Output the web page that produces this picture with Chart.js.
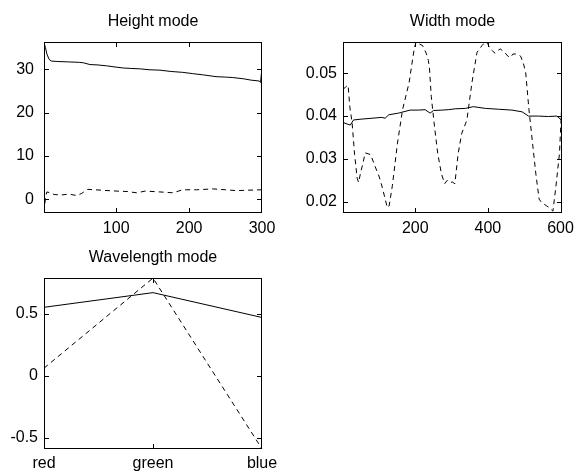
<!DOCTYPE html>
<html>
<head>
<meta charset="utf-8">
<script src="https://cdn.jsdelivr.net/npm/chart.js@4/dist/chart.umd.min.js"></script>
<style>
  html, body { margin: 0; padding: 0; background: #fff; }
  body { width: 575px; height: 471px; position: relative; overflow: hidden; }
  .panel { position: absolute; }
</style>
</head>
<body>
<div class="panel" style="left:0;top:0"><canvas id="height-chart" width="285" height="240"></canvas></div>
<div class="panel" style="left:290px;top:0"><canvas id="width-chart" width="285" height="240"></canvas></div>
<div class="panel" style="left:0;top:235px"><canvas id="wave-chart" width="290" height="236"></canvas></div>
<script>
/* ─── Data ───────────────────────────────────────────────────────────────── */
const heightSolidX  = [1, 3, 5, 8, 11, 20, 35, 50, 55, 64, 75, 87, 100, 110, 120, 133, 145, 160, 175, 191, 205, 220, 237, 250, 260, 275, 285, 296, 298, 300];
const heightSolidY  = [36.2, 35, 33.5, 32.3, 31.9, 31.8, 31.7, 31.6, 31.5, 31.1, 31.0, 30.8, 30.5, 30.3, 30.2, 30.1, 29.9, 29.8, 29.5, 29.3, 29.0, 28.7, 28.3, 28.2, 28.1, 27.8, 27.5, 27.3, 27.0, 30.3];
const heightDashX   = [1, 2, 3, 5, 10, 15, 25, 35, 45, 52, 61, 80, 100, 115, 128, 140, 160, 178, 191, 210, 233, 250, 265, 280, 300];
const heightDashY   = [-3, -1.5, 0.5, 1.7, 1.5, 1.1, 1.0, 1.2, 0.9, 1.3, 2.3, 2.1, 1.9, 1.8, 1.5, 1.9, 1.7, 1.5, 2.2, 2.2, 2.4, 2.2, 2.0, 2.1, 2.2];
const heightXTicks  = [100, 200, 300];
const heightYTicks  = [0, 10, 20, 30];

const widthSolidX   = [1, 21, 30, 53, 81, 108, 117, 127, 154, 163, 186, 209, 227, 241, 250, 273, 291, 310, 338, 360, 393, 429, 466, 494, 512, 539, 567, 590, 602, 604];
const widthSolidY   = [0.0385, 0.0379, 0.0391, 0.0393, 0.0395, 0.0397, 0.0395, 0.0403, 0.0407, 0.0409, 0.0414, 0.0414, 0.0415, 0.0407, 0.0413, 0.0414, 0.0415, 0.0417, 0.0418, 0.0422, 0.0418, 0.0416, 0.0414, 0.041, 0.040, 0.040, 0.0399, 0.040, 0.0391, 0.0454];
const widthDashX    = [1, 8, 15, 20, 26, 33, 40, 44, 50, 56, 62, 70, 77, 90, 100, 109, 116, 123, 128, 137, 151, 165, 183, 197, 202, 212, 220, 230, 236, 239, 244, 253, 262, 272, 281, 288, 295, 302, 309, 318, 328, 342, 356, 370, 384, 392, 399, 406, 413, 420, 427, 434, 441, 448, 455, 462, 469, 476, 483, 490, 497, 504, 513, 522, 532, 541, 548, 555, 562, 569, 574, 579, 587, 597, 603];
const widthDashY    = [0.0462, 0.0468, 0.0472, 0.042, 0.0385, 0.031, 0.0255, 0.0245, 0.027, 0.029, 0.0314, 0.0312, 0.031, 0.0281, 0.026, 0.0234, 0.021, 0.0186, 0.019, 0.0238, 0.0337, 0.0415, 0.0478, 0.0557, 0.0573, 0.0568, 0.0565, 0.0547, 0.053, 0.0513, 0.0446, 0.0375, 0.0312, 0.0265, 0.0242, 0.025, 0.0245, 0.0246, 0.0242, 0.0312, 0.036, 0.039, 0.0478, 0.0549, 0.0565, 0.0573, 0.057, 0.0557, 0.0552, 0.0547, 0.0553, 0.0557, 0.0552, 0.0547, 0.054, 0.0537, 0.0545, 0.0545, 0.0543, 0.054, 0.0525, 0.0502, 0.0415, 0.0344, 0.0265, 0.0206, 0.0198, 0.0194, 0.019, 0.0186, 0.0182, 0.0178, 0.0234, 0.0312, 0.042];
const widthXTicks   = [200, 400, 600];
const widthYTicks   = [0.02, 0.03, 0.04, 0.05];

const waveLabels    = ['red', 'green', 'blue'];
const waveSolid     = [0.55, 0.668, 0.468];
const waveDash      = [0.06, 0.785, -0.59];
const waveYTicks    = [-0.5, 0, 0.5];

/* ─── Helpers ────────────────────────────────────────────────────────────── */
const FONT = { family: '"Liberation Sans", Arial, Helvetica, sans-serif', size: 16, weight: 'normal' };
Chart.defaults.color = '#000';
Chart.defaults.font = FONT;

function toPoints(xs, ys) {
  return xs.map((x, i) => ({ x, y: ys[i] }));
}

function fixSize(size, horizontal) {
  return scale => {
    if (horizontal) scale.height = size; else scale.width = size;
    scale.paddingLeft = scale.paddingRight = scale.paddingTop = scale.paddingBottom = 0;
  };
}

function setTicks(values) {
  return scale => { scale.ticks = values.map(v => ({ value: v })); };
}

// matlab style box with inward ticks on all four sides, drawn as 1px fills
const boxPlugin = {
  id: 'matlabBox',
  afterDraw(chart) {
    const { ctx, chartArea: a, scales } = chart;
    const L = 4;
    const l = Math.round(a.left), r = Math.round(a.right) - 1;
    const t = Math.round(a.top),  b = Math.round(a.bottom) - 1;
    ctx.save();
    ctx.fillStyle = '#000';
    ctx.fillRect(l, t, r - l + 1, 1);
    ctx.fillRect(l, b, r - l + 1, 1);
    ctx.fillRect(l, t, 1, b - t + 1);
    ctx.fillRect(r, t, 1, b - t + 1);
    scales.x.ticks.forEach((_, i) => {
      const px = Math.min(r, Math.round(scales.x.getPixelForTick(i)));
      ctx.fillRect(px, b - L, 1, L);
      ctx.fillRect(px, t + 1, 1, L);
    });
    scales.y.ticks.forEach((_, i) => {
      const py = Math.round(scales.y.getPixelForTick(i));
      ctx.fillRect(l + 1, py, L, 1);
      ctx.fillRect(r - L, py, L, 1);
    });
    ctx.restore();
  }
};

function line(data, dashed) {
  return {
    data,
    borderColor: '#000',
    borderWidth: 1,
    borderDash: dashed ? [5, 4] : [],
    pointRadius: 0,
    tension: 0,
    fill: false
  };
}

function makeChart(id, o) {
  const xScale = o.category
    ? { type: 'category', offset: false }
    : { type: 'linear', min: o.xMin, max: o.xMax, afterBuildTicks: setTicks(o.xTicks) };
  Object.assign(xScale, {
    grid: { display: false, drawTicks: false },
    border: { display: false },
    ticks: { padding: o.xPad, maxRotation: 0, autoSkip: false, callback: v => String(v) },
    afterFit: fixSize(o.xHeight, true)
  });
  if (o.category) {
    xScale.ticks.callback = function (v) { return this.getLabelForValue(v); };
  }

  new Chart(document.getElementById(id), {
    type: 'line',
    data: { labels: o.labels, datasets: o.datasets },
    options: {
      responsive: false,
      animation: false,
      layout: { padding: { left: 0, right: o.padRight, top: 0, bottom: 0 } },
      plugins: {
        legend: { display: false },
        tooltip: { enabled: false },
        title: {
          display: true,
          text: o.title,
          fullSize: false,
          color: '#000',
          font: { ...FONT, lineHeight: 1.25 },
          padding: { top: o.titleTop, bottom: o.titleBottom }
        }
      },
      scales: {
        x: xScale,
        y: {
          type: 'linear',
          min: o.yMin,
          max: o.yMax,
          afterBuildTicks: setTicks(o.yTicks),
          grid: { display: false, drawTicks: false },
          border: { display: false },
          ticks: { padding: o.yPad, callback: v => String(v) },
          afterFit: fixSize(o.yWidth, false)
        }
      }
    },
    plugins: [boxPlugin]
  });
}

/* ─── Panels ─────────────────────────────────────────────────────────────── */
makeChart('height-chart', {
  title: 'Height mode', titleTop: 12, titleBottom: 10,
  xMin: 1, xMax: 300, xTicks: heightXTicks, xHeight: 27, xPad: 6,
  yMin: -3.16, yMax: 36.3, yTicks: heightYTicks, yWidth: 44, yPad: 10,
  padRight: 23,
  datasets: [
    line(toPoints(heightSolidX, heightSolidY), false),
    line(toPoints(heightDashX, heightDashY), true)
  ]
});

makeChart('width-chart', {
  title: 'Width mode', titleTop: 12, titleBottom: 10,
  xMin: 1, xMax: 604, xTicks: widthXTicks, xHeight: 27, xPad: 6,
  yMin: 0.01736, yMax: 0.05731, yTicks: widthYTicks, yWidth: 53, yPad: 6,
  padRight: 13,
  datasets: [
    line(toPoints(widthSolidX, widthSolidY), false),
    line(toPoints(widthDashX, widthDashY), true)
  ]
});

makeChart('wave-chart', {
  title: 'Wavelength mode', titleTop: 13, titleBottom: 10,
  category: true, labels: waveLabels, xHeight: 22, xPad: 5,
  yMin: -0.591, yMax: 0.786, yTicks: waveYTicks, yWidth: 44, yPad: 6,
  padRight: 28,
  datasets: [
    line(waveSolid, false),
    line(waveDash, true)
  ]
});
</script>
</body>
</html>
